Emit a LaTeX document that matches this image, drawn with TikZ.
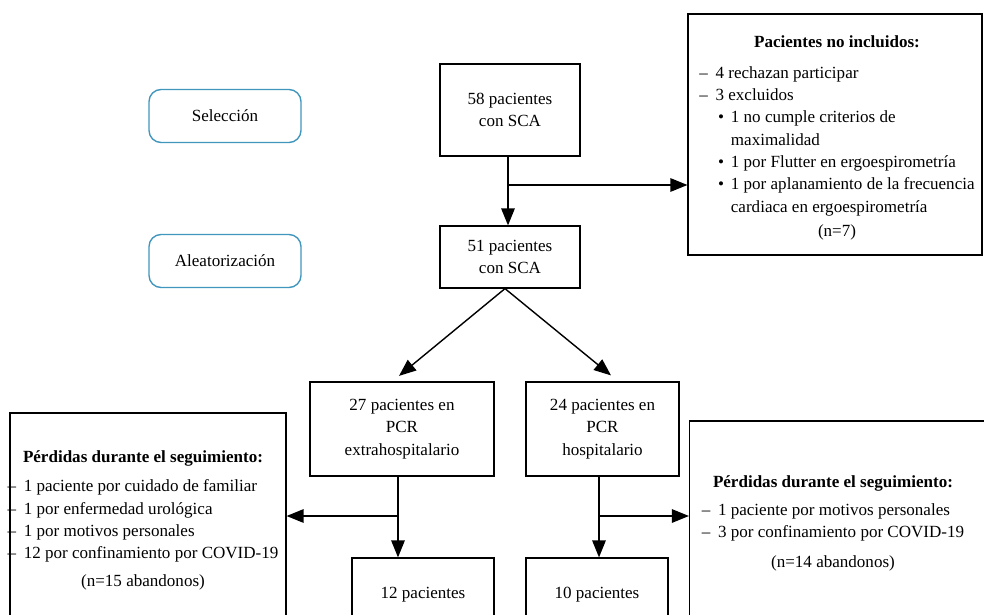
\documentclass[tikz,border=0pt]{standalone}
\usepackage{fontspec}
\setmainfont{Liberation Serif}
\usetikzlibrary{arrows.meta}

\definecolor{faseazul}{RGB}{65,150,190}

\newcommand{\guion}{\makebox[0.95em][l]{–}}
\newcommand{\punto}{\hspace*{1.1em}\makebox[0.75em][l]{•}}
\newcommand{\sangria}{\hspace*{1.85em}}

\begin{document}
\begin{tikzpicture}[x=0.02cm, y=-0.02cm,
		caja/.style={draw, line width=0.7pt, inner sep=0pt, align=center, font=\fontsize{9.7}{12.7}\selectfont},
		fase/.style={draw=faseazul, line width=0.8pt, rounded corners=0.24cm, minimum width=3.04cm, minimum height=1.06cm, font=\fontsize{9.7}{12.7}\selectfont},
		texto/.style={inner sep=0pt, font=\fontsize{9.7}{12.7}\selectfont},
		flecha/.style={line width=0.8pt, -{Triangle[length=0.34cm,width=0.27cm]}}]
		\useasboundingbox (0,0) rectangle (984,615);
		\clip (0,0) rectangle (984,615);
		
		% fases
		\node[fase] at (225,116) (sel) {Selección};
		\node[fase] at (225,261) (alea) {Aleatorización};
		
		% pacientes
		\node[caja, minimum width=2.8cm, minimum height=1.84cm] at (510,110) (n58) {58 pacientes\\con SCA};
		\node[caja, minimum width=2.8cm, minimum height=1.24cm] at (510,257) (n51) {51 pacientes\\con SCA};
		\node[caja, minimum width=3.68cm, minimum height=1.88cm] at (402,429) (n27) {27 pacientes en\\PCR\\extrahospitalario};
		\node[caja, minimum width=3.06cm, minimum height=1.88cm] at (602.5,429) (n24) {24 pacientes en\\PCR\\hospitalario};
		\node[caja, minimum width=2.84cm, minimum height=1.48cm] at (423,595) (n12) {12 pacientes};
		\node[caja, minimum width=2.84cm, minimum height=1.48cm] at (597,595) (n10) {10 pacientes};
		
		% excluidos y perdidas
		\node[caja, minimum width=5.88cm, minimum height=4.82cm] at (835,134.5) (excl) {};
		\node[texto] at (837,138) (excltxt) {\begin{tabular}{@{}l@{}}
				\multicolumn{1}{c}{\textbf{Pacientes no incluidos:}}\\[4.5pt]
				\guion 4 rechazan participar\\
				\guion 3 excluidos\\
				\punto 1 no cumple criterios de\\
				\sangria maximalidad\\
				\punto 1 por Flutter en ergoespirometría\\
				\punto 1 por aplanamiento de la frecuencia\\
				\sangria cardiaca en ergoespirometría\\[1.5pt]
				\multicolumn{1}{c}{(n=7)}
			\end{tabular}};
		
		\node[caja, minimum width=5.52cm, minimum height=4.24cm] at (148,519) (perd1) {};
		\node[texto] at (143,520) (perd1txt) {\begin{tabular}{@{}l@{}}
				\multicolumn{1}{c}{\textbf{Pérdidas durante el seguimiento:}}\\[4pt]
				\guion 1 paciente por cuidado de familiar\\
				\guion 1 por enfermedad urológica\\
				\guion 1 por motivos personales\\
				\guion 12 por confinamiento por COVID-19\\[3pt]
				\multicolumn{1}{c}{(n=15 abandonos)}
			\end{tabular}};
		
		\node[caja, minimum width=6.22cm, minimum height=4.08cm] at (845,523) (perd2) {};
		\node[texto] at (833,523) (perd2txt) {\begin{tabular}{@{}l@{}}
				\multicolumn{1}{c}{\textbf{Pérdidas durante el seguimiento:}}\\[3pt]
				\guion 1 paciente por motivos personales\\
				\guion 3 por confinamiento por COVID-19\\[4pt]
				\multicolumn{1}{c}{(n=14 abandonos)}
			\end{tabular}};
		
		% draw edges
		\coordinate (y1) at (0,185);
		\coordinate (y2) at (0,516);
		\coordinate (r1) at ([xshift=-0.04cm]n58.south |- y1);
		\coordinate (r2) at ([xshift=-0.08cm]n27.south |- y2);
		\coordinate (r3) at ([xshift=-0.07cm]n24.south |- y2);
		
		\draw[flecha] ([xshift=-0.04cm]n58.south) -- ([xshift=-0.04cm]n51.north);
		\draw[flecha] (r1) -- (r1 -| excl.west);
		
		\draw[flecha] ([xshift=-0.1cm]n51.south) -- ([xshift=-0.06cm,yshift=0.11cm]n27.north);
		\draw[flecha] ([xshift=-0.1cm]n51.south) -- ([xshift=0.17cm,yshift=0.12cm]n24.north);
		
		\draw[flecha] ([xshift=-0.08cm]n27.south) -- ([xshift=-0.08cm]n27.south |- n12.north);
		\draw[flecha] (r2) -- (r2 -| perd1.east);
		\draw[flecha] ([xshift=-0.07cm]n24.south) -- ([xshift=-0.07cm]n24.south |- n10.north);
		\draw[flecha] (r3) -- (r3 -| perd2.west);
		\end{tikzpicture}
\end{document}
